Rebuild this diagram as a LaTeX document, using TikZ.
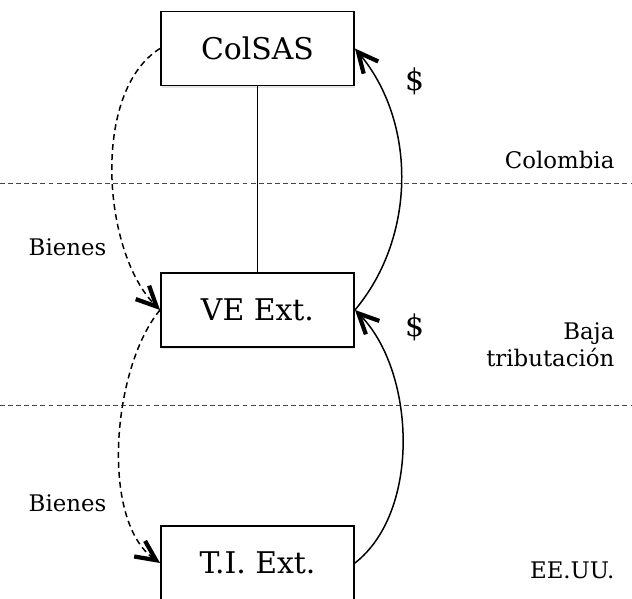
\documentclass[tikz,border=0pt]{standalone}
\usepackage{fontspec}
\setmainfont{DejaVu Serif}
\usetikzlibrary{arrows.meta,positioning,shadows}
\definecolor{sepLine}{RGB}{70,70,70}
\tikzset{
    every node/.append style={align=center},
    entity/.style={rectangle,draw=black,line width=1.1pt,minimum width=3.86cm,
        minimum height=1.48cm,font=\fontsize{17}{20}\selectfont,fill=white,
        drop shadow={opacity=0.2,shadow xshift=0.4pt,shadow yshift=-1.2pt}},
    lbl/.style={font=\fontsize{13}{15.5}\selectfont,inner sep=1pt},
    money/.style={font=\fontsize{17}{20}\selectfont,inner sep=1pt},
    region/.style={draw=sepLine,line width=0.5pt,dash pattern=on 2.8pt off 1.8pt},
    flow/.style={-{Straight Barb[length=4mm,width=3.8mm,line width=2.4pt]},line width=0.85pt},
    goods/.style={flow,dash pattern=on 3.4pt off 2.3pt},
    pay/.style={flow}
}

\begin{document}
\begin{tikzpicture}
    \clip (0,0) rectangle (12.64,11.98);
    \node[entity] (colsas) at (5.15,11.01) {ColSAS};
    \node[entity] (ve)     at (5.15, 5.78) {VE Ext.};
    \node[entity] (ti)     at (5.15, 0.72) {T.I. Ext.};

    \coordinate (colW)  at ( 0.00,8.32);
    \coordinate (colE)  at (12.64,8.32);
    \coordinate (bajaW) at ( 0.00,3.88);
    \coordinate (bajaE) at (12.64,3.88);

    \node[lbl,anchor=east]             (colombia) at (12.33,8.78) {Colombia};
    \node[lbl,anchor=east,align=right] (baja)     at (12.33,5.08) {Baja\\tributación};
    \node[lbl,anchor=east]             (eeuu)     at (12.33,0.58) {EE.UU.};
    \node[money] (payTop) at (8.29,10.35) {\$};
    \node[money] (payBot) at (8.29, 5.43) {\$};
    \node[lbl] (goodsTop) at (1.35,7.04) {Bienes};
    \node[lbl] (goodsBot) at (1.35,1.92) {Bienes};

    \draw[region] (colW) -- (colE);
    \draw[region] (bajaW) -- (bajaE);
    \draw[line width=1pt] (colsas) -- (ve);
    \draw[goods] (colsas.west) to[out=212,in=135,looseness=0.8] (ve.west);
    \draw[goods] (ve.west) to[out=230,in=145,looseness=0.75] (ti.west);
    \draw[pay] (ve.east) to[out=50,in=-50,looseness=0.94] (colsas.east);
    \draw[pay] (ti.east) to[out=38,in=-45,looseness=0.86] (ve.east);
\end{tikzpicture}
\end{document}
